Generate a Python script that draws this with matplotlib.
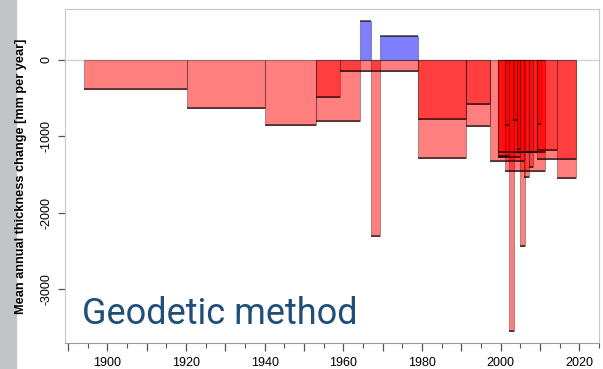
import matplotlib.pyplot as plt
from matplotlib.patches import Rectangle

plt.rcParams['font.family'] = ['Liberation Sans', 'DejaVu Sans']

# thinning periods (start year, end year, mean change in mm per year)
red_start = [1894.1, 1920.2, 1940.1, 1953.1, 1953.1, 1959.2, 1967.1, 1979.1, 1979.1,
             1991.1, 1991.1, 1997.2, 1999.2, 1999.2, 1999.2, 2001.2, 2001.2, 2002.2,
             2003.2, 2004.1, 2004.1, 2005.0, 2006.0, 2007.1, 2009.2, 2009.2, 2009.2,
             2014.2]
red_end = [1920.2, 1940.1, 1953.1, 1959.2, 1964.2, 1979.1, 1969.2, 1991.1, 1991.1,
           1997.2, 1997.2, 2006.0, 2002.2, 2005.0, 2011.2, 2002.2, 2011.3, 2003.3,
           2004.1, 2009.2, 2005.0, 2006.2, 2007.1, 2008.1, 2010.2, 2014.2, 2019.2,
           2019.2]
red_value = [-385, -632, -855, -480, -797, -144, -2300, -767, -1285,
             -580, -863, -1325, -1255, -1272, -1210, -845, -1447, -3550,
             -784, -1200, -1167, -2440, -1533, -1400, -836, -1172, -1298,
             -1547]

# thickening periods
blue_start = [1964.2, 1969.2]
blue_end = [1967.1, 1979.1]
blue_value = [510, 314]

fig = plt.figure(figsize=(6.03, 3.69), dpi=100)
fig.patches.append(Rectangle((0, 0), 16 / 603, 1, transform=fig.transFigure,
                             color='#c2c5c5', zorder=-10))
ax = fig.add_axes([65 / 603, 1 - 343 / 369, 534 / 603, 334 / 369])

ax.axhline(0, color='#d4d4d4', lw=1, zorder=0)


def draw(starts, ends, values, color):
    widths = [e - s for s, e in zip(starts, ends)]
    ax.bar(starts, values, width=widths, align='edge', color=color,
           edgecolor=(0, 0, 0, 0.3), linewidth=0.8, zorder=2)
    ax.hlines(values, starts, ends, color='black', alpha=0.75, lw=1.1, zorder=3)


draw(red_start, red_end, red_value, (1, 0, 0, 0.5))
draw(blue_start, blue_end, blue_value, (0, 0, 1, 0.5))

ax.set_xlim(1889.24, 2025.0)
ax.set_ylim(-3703, 667)

ax.set_xticks(range(1890, 2030, 10))
ax.set_xticklabels(['' if y % 20 else str(y) for y in range(1890, 2030, 10)])
ax.set_xticks(range(1895, 2026, 5), minor=True)
ax.set_yticks([0, -1000, -2000, -3000])
ax.set_yticklabels(['0', '-1000', '-2000', '-3000'], rotation=90, va='center')

ax.tick_params(axis='x', which='major', length=6, width=0.9, color='#555555',
               labelsize=9, pad=4)
ax.tick_params(axis='x', which='minor', length=3.5, width=0.8, color='#555555')
ax.tick_params(axis='y', length=5, width=0.9, color='#555555', labelsize=9, pad=4)

for side in ['left', 'top', 'right']:
    ax.spines[side].set_color('#c8c8c8')
ax.spines['bottom'].set_color('#9a9a9a')

ax.set_ylabel('Mean annual thickness change [mm per year]', fontsize=9.2,
              fontweight='bold')
ax.yaxis.set_label_coords(-38 / 534, 0.5)

ax.text(1893.5, -3454, 'Geodetic method', fontsize=26, color='#1f4e79',
        family=['Roboto', 'DejaVu Sans'], va='baseline', zorder=5)

fig.savefig('out.png', dpi=100)
